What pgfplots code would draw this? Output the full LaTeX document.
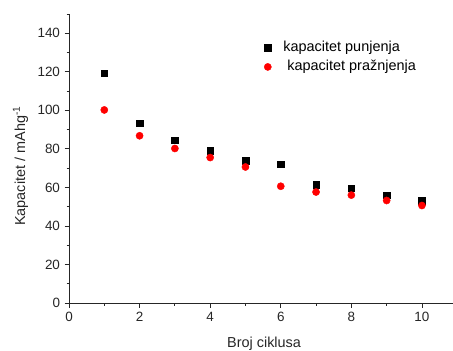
\documentclass[border=0pt]{standalone}
\usepackage{pgfplots}
\pgfplotsset{compat=1.18}
\usepackage{fontspec}
\setmainfont{Liberation Sans}
\begin{document}
\begin{tikzpicture}
\begin{axis}[
  name=ax,
  scale only axis,
  width=384bp, height=289bp,
  xmin=0, xmax=10.88, ymin=0, ymax=150,
  axis lines=left,
  axis line style={-, line width=0.8pt, black!85},
  xtick={0,2,4,6,8,10},
  ytick={0,20,40,60,80,100,120,140},
  minor xtick={1,3,5,7,9},
  minor ytick={10,30,50,70,90,110,130,150},
  tick align=outside,
  major tick length=4.5bp,
  minor tick length=2.5bp,
  tick style={line width=0.8pt, black!85},
  /pgf/number format/assume math mode=true,
  ticklabel style={font=\fontsize{13.5}{16}\selectfont, text=black!85},
  xticklabel style={yshift=-1bp},
  yticklabel style={xshift=-1bp},
  xlabel={Broj ciklusa},
  ylabel={Kapacitet / mAhg\textsuperscript{-1}},
  every axis x label/.style={at={(axis description cs:0.508,-0.141)}, anchor=center, font=\fontsize{14.5}{17}\selectfont, text=black!85},
  every axis y label/.style={at={(axis description cs:-0.126,0.474)}, rotate=90, anchor=center, font=\fontsize{14.5}{17}\selectfont, text=black!85},
  legend style={draw=none, fill=none, at={(axis description cs:0.5,0.917)}, anchor=north west, font=\fontsize{14.5}{17}\selectfont, row sep=3.5bp, column sep=11bp,
    nodes={inner sep=1bp, text height=10.5bp, text depth=3bp}},
  legend cell align=left,
  clip=false,
]
\addplot[only marks, mark=square*, mark size=3.3bp, black] coordinates {
(1,119.2) (2,93.4) (3,84.4) (4,79.0) (5,74.0) (6,72.0) (7,61.5) (8,59.5) (9,56.0) (10,53.2)
};
\addlegendentry{kapacitet punjenja}
\addplot[only marks, mark=*, mark size=3.6bp, red, mark options={draw=red, fill=red}] coordinates {
(1,100.2) (2,86.8) (3,80.2) (4,75.5) (5,70.6) (6,60.6) (7,57.6) (8,56.0) (9,53.2) (10,50.6)
};
\addlegendentry{\ kapacitet pražnjenja}
\end{axis}
\pgfresetboundingbox
\path[use as bounding box] (-69bp,-48bp) rectangle (384bp,303bp);
\end{tikzpicture}
\end{document}
